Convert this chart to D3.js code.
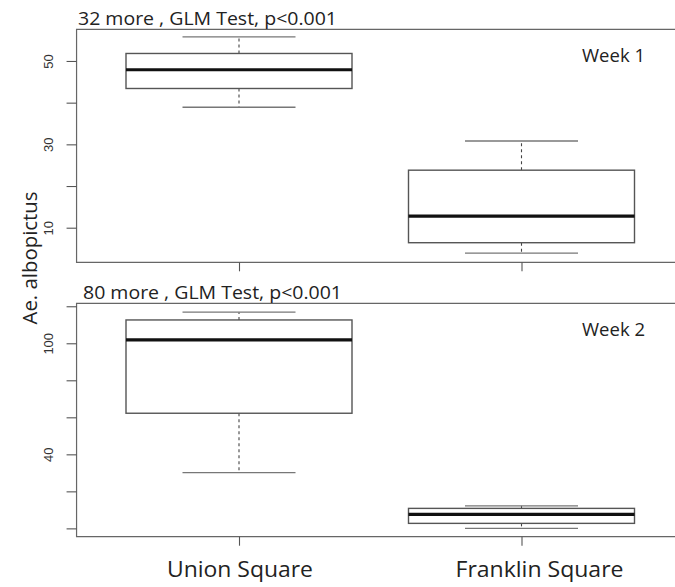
<!DOCTYPE html>
<html lang="en">
<head>
  <meta charset="UTF-8">
  <title>Ae. albopictus boxplots</title>
  <script src="https://cdn.jsdelivr.net/npm/d3@7"></script>
  <style>
    body { margin: 0; padding: 0; background: #fff; overflow: hidden; }
    svg text { font-family: "Open Sans", "Noto Sans", sans-serif; fill: #222; }
    .tick text { font-family: "Liberation Sans", Arial, sans-serif; font-size: 13px; fill: #333; }
  </style>
</head>
<body>
<div id="chart"></div>
<script>
// sites on the x axis
var sites = ["Union Square", "Franklin Square"];
var weeks = ["Week 1", "Week 2"];
var notes = ["32 more , GLM Test, p<0.001", "80 more , GLM Test, p<0.001"];

// five-number summaries: [low whisker, q1, median, q3, high whisker]
var week1Union    = [38.9, 43.4, 47.9, 51.8, 55.8];
var week1Franklin = [3.9, 6.4, 12.8, 23.8, 30.8];
var week2Union    = [30.1, 62.2, 101.8, 112.6, 116.8];
var week2Franklin = [0, 2.7, 7.6, 10.8, 12.2];

// y ticks, and the ones R kept labels for
var week1Ticks = [10, 20, 30, 40, 50];
var week1Labels = [10, 30, 50];
var week2Ticks = [0, 20, 40, 60, 80, 100, 120];
var week2Labels = [40, 100];

var W = 675, H = 587;

var svg = d3.select("#chart")
            .append("svg")
            .attr("width", W)
            .attr("height", H);

var x = d3.scaleLinear().domain([1, 2]).range([239, 521.5]);
var frameL = x(0.425), frameR = x(2.6);

var panels = [
  { stats: [week1Union, week1Franklin], ticks: week1Ticks, labels: week1Labels,
    domain: [1.7, 57.6], top: 29.3, bottom: 262.3, week: weeks[0], note: notes[0], noteX: 78 },
  { stats: [week2Union, week2Franklin], ticks: week2Ticks, labels: week2Labels,
    domain: [-4.5, 121.6], top: 303.3, bottom: 536.7, week: weeks[1], note: notes[1], noteX: 83 }
];

panels.forEach(function(p) {
  var y = d3.scaleLinear().domain(p.domain).range([p.bottom, p.top]);
  var g = svg.append("g");

  // frame (right side runs off the page like the original)
  g.append("path")
   .attr("fill", "none")
   .attr("stroke", "#666")
   .attr("stroke-width", 1.2)
   .attr("d", "M" + frameR + "," + p.top + " L" + frameL + "," + p.top +
              " L" + frameL + "," + p.bottom + " L" + frameR + "," + p.bottom);

  // y axis
  var yAxis = d3.axisLeft(y)
                .tickValues(p.ticks)
                .tickSize(10)
                .tickPadding(14)
                .tickFormat(function(d) { return p.labels.indexOf(d) >= 0 ? d : ""; });
  var ya = g.append("g")
            .attr("transform", "translate(" + frameL + ",0)")
            .call(yAxis);
  ya.select(".domain").remove();
  ya.selectAll(".tick line").attr("stroke", "#555").attr("stroke-width", 1.1);
  ya.selectAll(".tick text")
    .attr("text-anchor", "middle")
    .attr("dy", 0)
    .attr("x", null)
    .attr("transform", "translate(-24,0) rotate(-90)");

  // x axis ticks only
  var xAxis = d3.axisBottom(x).tickValues([1, 2]).tickSize(9).tickFormat("");
  var xa = g.append("g")
            .attr("transform", "translate(0," + p.bottom + ")")
            .call(xAxis);
  xa.select(".domain").remove();
  xa.selectAll(".tick line").attr("stroke", "#555").attr("stroke-width", 1.1);

  // boxes
  var half = (x(1.4) - x(1)), staple = (x(1.2) - x(1));
  var box = g.selectAll(".box")
             .data(p.stats)
             .enter()
             .append("g")
             .attr("class", "box");

  box.append("line")
     .attr("x1", function(d, i) { return x(i + 1); })
     .attr("x2", function(d, i) { return x(i + 1); })
     .attr("y1", function(d) { return y(d[3]); })
     .attr("y2", function(d) { return y(d[4]); })
     .attr("stroke", "#444").attr("stroke-width", 1.1).attr("stroke-dasharray", "3,3");
  box.append("line")
     .attr("x1", function(d, i) { return x(i + 1); })
     .attr("x2", function(d, i) { return x(i + 1); })
     .attr("y1", function(d) { return y(d[1]); })
     .attr("y2", function(d) { return y(d[0]); })
     .attr("stroke", "#444").attr("stroke-width", 1.1).attr("stroke-dasharray", "3,3");

  [0, 4].forEach(function(k) {
    box.append("line")
       .attr("x1", function(d, i) { return x(i + 1) - staple; })
       .attr("x2", function(d, i) { return x(i + 1) + staple; })
       .attr("y1", function(d) { return y(d[k]); })
       .attr("y2", function(d) { return y(d[k]); })
       .attr("stroke", "#777").attr("stroke-width", 1.3);
  });

  box.append("rect")
     .attr("x", function(d, i) { return x(i + 1) - half; })
     .attr("width", 2 * half)
     .attr("y", function(d) { return y(d[3]); })
     .attr("height", function(d) { return y(d[1]) - y(d[3]); })
     .attr("fill", "#fff")
     .attr("stroke", "#555")
     .attr("stroke-width", 1.4);

  box.append("line")
     .attr("x1", function(d, i) { return x(i + 1) - half; })
     .attr("x2", function(d, i) { return x(i + 1) + half; })
     .attr("y1", function(d) { return y(d[2]); })
     .attr("y2", function(d) { return y(d[2]); })
     .attr("stroke", "#111").attr("stroke-width", 3.2);

  // note above the panel and week label inside
  g.append("text")
   .attr("x", p.noteX)
   .attr("y", p.top - 4)
   .attr("font-size", 18)
   .attr("textLength", 259)
   .attr("lengthAdjust", "spacingAndGlyphs")
   .text(p.note);

  g.append("text")
   .attr("x", 645)
   .attr("y", p.top + 33)
   .attr("text-anchor", "end")
   .attr("font-size", 19)
   .attr("textLength", 63)
   .attr("lengthAdjust", "spacingAndGlyphs")
   .text(p.week);
});

// site names under the lower panel
svg.selectAll(".site")
   .data(sites)
   .enter()
   .append("text")
   .attr("class", "site")
   .attr("x", function(d, i) { return x(i + 1) + (i === 1 ? 18 : 1); })
   .attr("y", 577)
   .attr("text-anchor", "middle")
   .attr("font-size", 21)
   .attr("textLength", function(d, i) { return i === 0 ? 146 : 168; })
   .attr("lengthAdjust", "spacingAndGlyphs")
   .text(function(d) { return d; });

// shared y title
svg.append("text")
   .attr("transform", "translate(37,258) rotate(-90)")
   .attr("text-anchor", "middle")
   .attr("font-size", 20)
   .attr("textLength", 133)
   .attr("lengthAdjust", "spacingAndGlyphs")
   .text("Ae. albopictus");
</script>
</body>
</html>
